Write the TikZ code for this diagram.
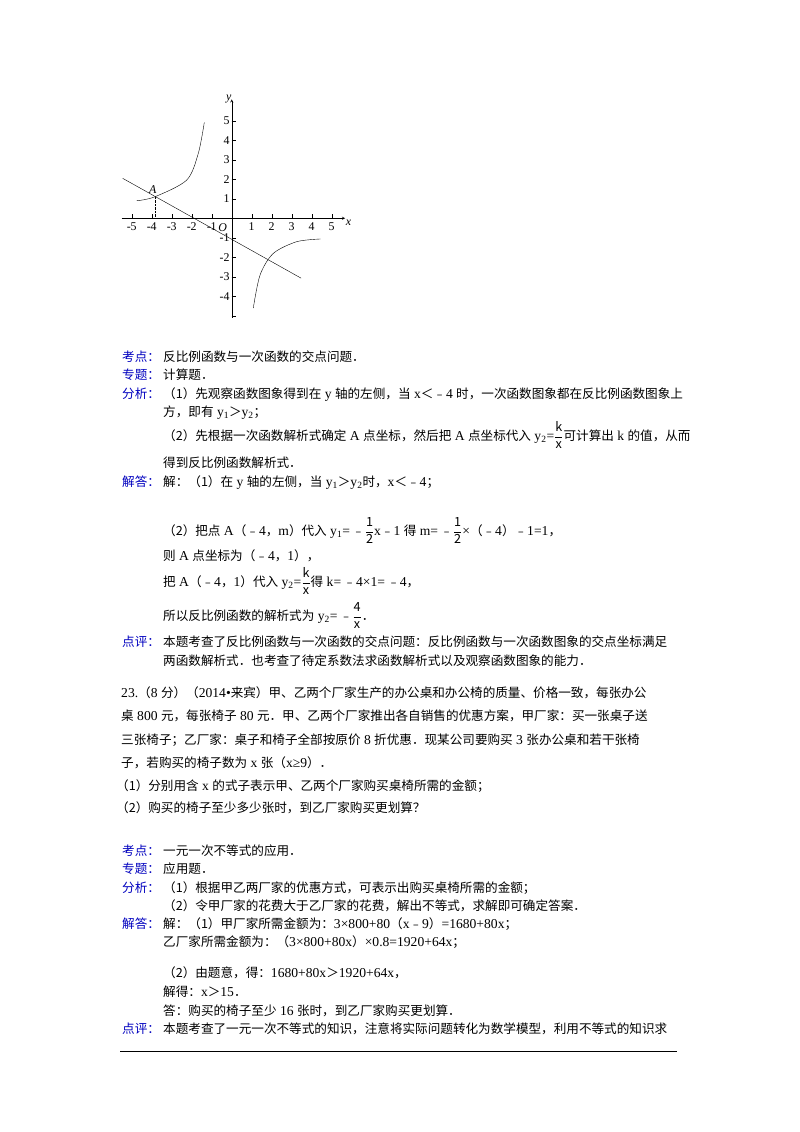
\documentclass[tikz,border=0pt]{standalone}
\usepackage{fontspec}
\setmainfont{Noto Sans CJK SC}
\newfontfamily\lat[Scale=1.08]{Liberation Serif}
\begin{document}
\begin{tikzpicture}[x=1pt,y=-1pt,
  lb/.style={anchor=base west,inner sep=0pt,text=blue!75!black},
  tx/.style={anchor=base west,inner sep=0pt},
  tk/.style={font=\lat\fontsize{11}{11}\selectfont,inner sep=1pt}]
\useasboundingbox[fill=white] (0,0) rectangle (800,1132);
\fontsize{12.6}{14}\selectfont
\def\fr#1#2{$\displaystyle\frac{\mathrm{#1}}{\mathrm{#2}}$}
% graph
\begin{scope}[shift={(231.7,218.3)},x=20pt,y=19.5pt,thin]
\coordinate (O) at (0,0);
\draw[->,>=stealth] (-5.5,0) -- (5.67,0);
\draw[->,>=stealth] (0,-5.1) -- (0,6.1);
\foreach \i in {-5,...,-1,1,2,...,5}{
  \draw (\i,0) -- (\i,0.2);
  \draw (0,\i) -- (0.2,\i);}
\foreach \i in {-5,-4,-3,-2,-1}{\node[tk,anchor=north] (xl\i) at (\i,-0.15) {\i};}
\foreach \i in {1,...,5}{\node[tk,anchor=north] (xl\i) at (\i,-0.15) {\i};}
\foreach \i in {-4,-3,-2,-1,1,2,...,5}{\node[tk,anchor=east] (yl\i) at (-0.05,\i) {\i};}
\node[tk,anchor=north] (Ol) at (-0.45,-0.2) {\itshape O};
\node[tk,anchor=east] (yn) at (0.05,6.1) {\itshape y};
\node[tk,anchor=north west] (xn) at (5.65,-0.05) {\itshape x};
\draw plot[smooth] coordinates {(-4.75,0.9) (-3.85,1.1) (-2.25,1.96) (-1.67,3.33) (-1.37,4.92)};
\draw plot[smooth] coordinates {(1.08,-4.6) (1.42,-2.9) (2.08,-1.8) (3.25,-1.2) (4.45,-1.06)};
\draw (-5.45,2.05) -- (3.47,-3.07);
\coordinate (A) at (-3.85,1.1);
\draw[densely dotted] (A) -- (-3.85,0);
\node[tk,anchor=south] (Al) at (-3.95,1.2) {\itshape A};
\end{scope}
% text part 1
\node[lb] (k1) at (122,361) {考点：};
\node[tx] (k1t) at (163,361) {反比例函数与一次函数的交点问题．};
\node[lb] (z1) at (122,379) {专题：};
\node[tx] (z1t) at (163,379) {计算题．};
\node[lb] (f1) at (122,398) {分析：};
\node[tx] (f1a) at (163,398) {（1）先观察函数图象得到在{\lat\ y\ }轴的左侧，当{\lat\ x}＜﹣{\lat 4\ }时，一次函数图象都在反比例函数图象上};
\node[tx] (f1b) at (163,416) {方，即有{\lat\ y\textsubscript{1}}＞{\lat y\textsubscript{2}}；};
\node[tx] (f1c) at (163,440) {（2）先根据一次函数解析式确定{\lat\ A\ }点坐标，然后把{\lat\ A\ }点坐标代入{\lat\ y\textsubscript{2}=}\fr{k}{x}可计算出{\lat\ k\ }的值，从而};
\node[tx] (f1d) at (163,467) {得到反比例函数解析式．};
\node[lb] (j1) at (122,486) {解答：};
\node[tx] (j1a) at (163,486) {解：（1）在{\lat\ y\ }轴的左侧，当{\lat\ y\textsubscript{1}}＞{\lat y\textsubscript{2}}时，{\lat x}＜﹣{\lat 4}；};
\node[tx] (j1b) at (163,535) {（2）把点{\lat\ A}（﹣{\lat 4}，{\lat m}）代入{\lat\ y\textsubscript{1}=\,}﹣\fr{1}{2}{\lat x}﹣{\lat 1\ }得{\lat\ m=\,}﹣\fr{1}{2}{\lat ×}（﹣{\lat 4}）﹣{\lat 1=1}，};
\node[tx] (j1c) at (163,560) {则{\lat\ A\ }点坐标为（﹣{\lat 4}，{\lat 1}），};
\node[tx] (j1d) at (163,586) {把{\lat\ A}（﹣{\lat 4}，{\lat 1}）代入{\lat\ y\textsubscript{2}=}\fr{k}{x}得{\lat\ k=\,}﹣{\lat 4×1=\,}﹣{\lat 4}，};
\node[tx] (j1e) at (163,620) {所以反比例函数的解析式为{\lat\ y\textsubscript{2}=\,}﹣\fr{4}{x}．};
\node[lb] (d1) at (122,646) {点评：};
\node[tx] (d1a) at (163,646) {本题考查了反比例函数与一次函数的交点问题：反比例函数与一次函数图象的交点坐标满足};
\node[tx] (d1b) at (163,665) {两函数解析式．也考查了待定系数法求函数解析式以及观察函数图象的能力．};
% problem 23
\node[tx] (p1) at (121,697) {{\lat 23.}（{\lat 8\ }分）（{\lat 2014•}来宾）甲、乙两个厂家生产的办公桌和办公椅的质量、价格一致，每张办公};
\node[tx] (p2) at (121,720) {桌{\lat\ 800\ }元，每张椅子{\lat\ 80\ }元．甲、乙两个厂家推出各自销售的优惠方案，甲厂家：买一张桌子送};
\node[tx] (p3) at (121,744) {三张椅子；乙厂家：桌子和椅子全部按原价{\lat\ 8\ }折优惠．现某公司要购买{\lat\ 3\ }张办公桌和若干张椅};
\node[tx] (p4) at (121,767) {子，若购买的椅子数为{\lat\ x\ }张（{\lat x≥9}）．};
\node[tx] (p5) at (116,790) {（1）分别用含{\lat\ x\ }的式子表示甲、乙两个厂家购买桌椅所需的金额；};
\node[tx] (p6) at (116,812) {（2）购买的椅子至少多少张时，到乙厂家购买更划算？};
% part 2
\node[lb] (k2) at (122,855) {考点：};
\node[tx] (k2t) at (163,855) {一元一次不等式的应用．};
\node[lb] (z2) at (122,873) {专题：};
\node[tx] (z2t) at (163,873) {应用题．};
\node[lb] (f2) at (122,892) {分析：};
\node[tx] (f2a) at (163,892) {（1）根据甲乙两厂家的优惠方式，可表示出购买桌椅所需的金额；};
\node[tx] (f2b) at (163,910) {（2）令甲厂家的花费大于乙厂家的花费，解出不等式，求解即可确定答案．};
\node[lb] (j2) at (122,928) {解答：};
\node[tx] (j2a) at (163,928) {解：（1）甲厂家所需金额为：{\lat 3×800+80}（{\lat x}﹣{\lat 9}）{\lat =1680+80x}；};
\node[tx] (j2b) at (163,946) {乙厂家所需金额为：（{\lat 3×800+80x}）{\lat ×0.8=1920+64x}；};
\node[tx] (j2c) at (163,977) {（2）由题意，得：{\lat 1680+80x}＞{\lat 1920+64x}，};
\node[tx] (j2d) at (163,996) {解得：{\lat x}＞{\lat 15}．};
\node[tx] (j2e) at (163,1015) {答：购买的椅子至少{\lat\ 16\ }张时，到乙厂家购买更划算．};
\node[lb] (d2) at (122,1033) {点评：};
\node[tx] (d2a) at (163,1033) {本题考查了一元一次不等式的知识，注意将实际问题转化为数学模型，利用不等式的知识求};
\coordinate (L1) at (120,1051);
\coordinate (L2) at (677,1051);
\draw[thin] (L1) -- (L2);
\end{tikzpicture}
\end{document}
